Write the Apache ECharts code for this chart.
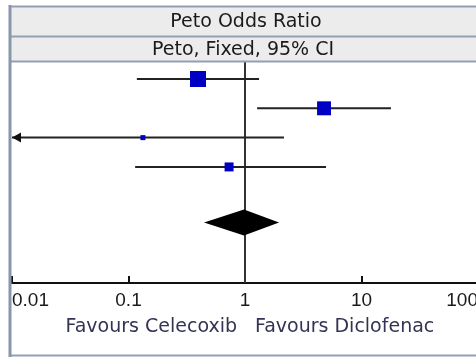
<!DOCTYPE html>
<html><head><meta charset="utf-8">
<script src="https://cdn.jsdelivr.net/npm/echarts@6/dist/echarts.min.js"></script>
<style>html,body{margin:0;padding:0;background:#fff}#c{width:476px;height:358px}</style>
</head><body><div id="c"></div>
<script>
// ---- data ----
const studies = ['Study 1', 'Study 2', 'Study 3', 'Study 4'];
const oddsRatio = [0.395, 4.77, 0.133, 0.73];
const ciLower = [0.118, 1.27, 0.004, 0.114];
const ciUpper = [1.32, 17.9, 2.16, 4.96];
const weights = [46, 35, 4.5, 14.5];
const pooledLower = 0.445;
const pooledEstimate = 0.98;
const pooledUpper = 1.96;
const tickLabels = ['0.01', '0.1', '1', '10', '100'];
const tickValues = [0.01, 0.1, 1, 10, 100];
const headerTitle = 'Peto Odds Ratio';
const headerSub = 'Peto, Fixed, 95% CI';
const favourLeft = 'Favours Celecoxib';
const favourRight = 'Favours Diclofenac';

// ---- layout ----
const ROW_POOLED = 4.9;
const X_MIN = 0.01, X_MAX = 100;
const BORDER = '#93a0b3';
const TEXT_FONT = 'DejaVu Sans';

const studyData = studies.map((s, i) => [ciLower[i], ciUpper[i], oddsRatio[i], weights[i], i]);

const chart = echarts.init(document.getElementById('c'), null, { renderer: 'canvas' });
chart.setOption({
  animation: false,
  backgroundColor: '#fff',
  grid: { left: 12, width: 466, top: 62, height: 221, containLabel: false, outerBoundsMode: 'none' },
  xAxis: {
    type: 'log', logBase: 10, min: X_MIN, max: X_MAX,
    position: 'bottom',
    axisLine: { show: true, onZero: false, lineStyle: { color: '#111', width: 2 } },
    axisTick: { show: true, inside: true, length: 7, lineStyle: { color: '#111', width: 2 } },
    minorTick: { show: false },
    splitLine: { show: false },
    axisLabel: {
      show: true, margin: 8, color: '#1a1a1a', fontFamily: 'Liberation Sans', fontSize: 19,
      alignMinLabel: 'left', alignMaxLabel: 'right',
      formatter: function (v) {
        let best = 0, bd = Infinity;
        tickValues.forEach((t, i) => { const d = Math.abs(Math.log10(t) - Math.log10(v)); if (d < bd) { bd = d; best = i; } });
        return tickLabels[best];
      }
    }
  },
  yAxis: { type: 'value', inverse: true, min: -0.58, max: 6.96, show: false },
  series: [
    {
      type: 'line', data: [[1, -0.58], [1, 6.96]], symbol: 'none', silent: true,
      lineStyle: { color: '#333', width: 2 }, z: 1
    },
    {
      type: 'custom', data: studyData, z: 3, clip: false,
      renderItem: function (params, api) {
        const lo = api.value(0), hi = api.value(1), pt = api.value(2), w = api.value(3), row = api.value(4);
        const p0 = api.coord([Math.max(lo, X_MIN), row]);
        const p1 = api.coord([Math.min(hi, X_MAX), row]);
        const pc = api.coord([pt, row]);
        const s = 2.36 * Math.sqrt(w);
        const children = [
          { type: 'line', shape: { x1: p0[0], y1: p0[1], x2: p1[0], y2: p1[1] }, style: { stroke: '#222', lineWidth: 2 } },
          { type: 'rect', shape: { x: pc[0] - s / 2, y: pc[1] - s / 2, width: s, height: s }, style: { fill: '#0000c4' } }
        ];
        if (lo < X_MIN) {
          children.push({ type: 'polygon', shape: { points: [[p0[0], p0[1]], [p0[0] + 9, p0[1] - 5], [p0[0] + 9, p0[1] + 5]] }, style: { fill: '#111' } });
        }
        return { type: 'group', children: children };
      }
    },
    {
      type: 'custom', data: [[pooledLower, pooledEstimate, pooledUpper, ROW_POOLED]], z: 3,
      renderItem: function (params, api) {
        const a = api.coord([api.value(0), api.value(3)]);
        const b = api.coord([api.value(1), api.value(3)]);
        const c = api.coord([api.value(2), api.value(3)]);
        const h = 13;
        return { type: 'polygon', shape: { points: [[a[0], a[1]], [b[0], b[1] - h], [c[0], c[1]], [b[0], b[1] + h]] }, style: { fill: '#000' } };
      }
    }
  ],
  graphic: [
    { type: 'rect', z: -10, shape: { x: 10, y: 6, width: 470, height: 56 }, style: { fill: '#ececec' } },
    { type: 'line', z: 5, shape: { x1: 9, y1: 6.5, x2: 476, y2: 6.5 }, style: { stroke: BORDER, lineWidth: 2 } },
    { type: 'line', z: 5, shape: { x1: 9, y1: 36.5, x2: 476, y2: 36.5 }, style: { stroke: BORDER, lineWidth: 2 } },
    { type: 'line', z: 5, shape: { x1: 9, y1: 61.5, x2: 476, y2: 61.5 }, style: { stroke: BORDER, lineWidth: 2 } },
    { type: 'line', z: 5, shape: { x1: 9, y1: 355.5, x2: 476, y2: 355.5 }, style: { stroke: BORDER, lineWidth: 2 } },
    { type: 'line', z: 5, shape: { x1: 10, y1: 5, x2: 10, y2: 357 }, style: { stroke: '#8796ab', lineWidth: 3 } },
    { type: 'text', z: 6, x: 246, y: 22.5, style: { text: headerTitle, fill: '#1a1a1a', font: '19px "' + TEXT_FONT + '"', textAlign: 'center', textVerticalAlign: 'middle' } },
    { type: 'text', z: 6, x: 243, y: 50, style: { text: headerSub, fill: '#1a1a1a', font: '19px "' + TEXT_FONT + '"', textAlign: 'center', textVerticalAlign: 'middle' } },
    { type: 'text', z: 6, x: 237, y: 327.5, style: { text: favourLeft, fill: '#333355', font: '19px "' + TEXT_FONT + '"', textAlign: 'right', textVerticalAlign: 'middle' } },
    { type: 'text', z: 6, x: 255, y: 327.5, style: { text: favourRight, fill: '#333355', font: '19px "' + TEXT_FONT + '"', textAlign: 'left', textVerticalAlign: 'middle' } }
  ]
});
</script>
</body></html>
